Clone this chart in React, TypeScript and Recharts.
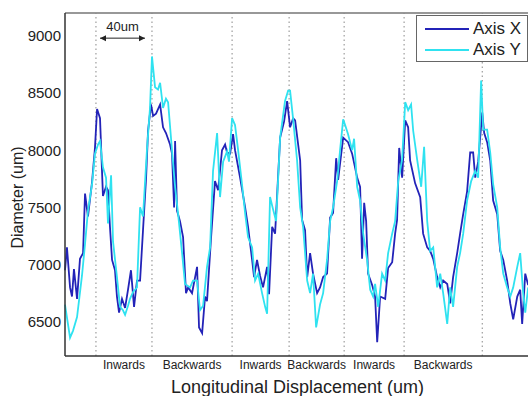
import React from 'react';
import { LineChart, Line, XAxis, YAxis, ReferenceLine } from 'recharts';

// Displacement (um) and diameter (um), Axis X probe
const xPos = [
  0, 1.4, 3.6, 5.0, 6.4, 8.6, 10.7, 12.9, 14.3, 16.4, 19.3, 21.4, 22.9, 25.0, 27.1, 29.3, 30.7, 32.1, 33.6, 35.7,
  37.1, 38.6, 40.7, 42.9, 45.0, 47.1, 49.3, 51.4, 53.6, 55.7, 57.9, 59.3, 61.4, 62.9, 65.0, 67.9, 70.0, 72.1, 75.0, 76.4,
  77.9, 78.6, 80.0, 82.1, 84.3, 86.4, 87.9, 90.7, 94.3, 95.7, 97.9, 100.0, 101.4, 104.3, 107.1, 109.3, 112.1, 114.3, 115.7, 117.9,
  120.0, 121.4, 125.0, 128.6, 130.7, 133.6, 135.0, 137.1, 139.3, 141.4, 144.3, 145.7, 147.9, 150.0, 153.6, 156.4, 158.6, 160.7, 162.9, 164.3,
  167.9, 169.3, 171.4, 172.9, 175.0, 177.1, 180.0, 182.1, 184.3, 187.1, 189.3, 191.4, 193.6, 195.0, 198.6, 202.1, 205.0, 208.6, 210.7, 212.1,
  213.6, 215.0, 216.4, 219.3, 221.4, 222.9, 225.0, 228.6, 230.7, 233.6, 235.7, 237.1, 238.6, 240.7, 242.9, 245.0, 246.4, 250.0, 253.6, 255.7,
  258.6, 260.7, 262.9, 265.7, 267.9, 270.0, 272.9, 275.0, 277.1, 280.0, 282.1, 284.3, 287.1, 289.3, 291.4, 292.9, 295.0, 297.9, 299.3, 301.4,
  303.6, 305.7, 308.6, 310.7, 312.9, 315.7, 317.9, 320.0, 322.9, 325.0, 326.4, 328.6, 330.7,
];
const xDiameter = [
  6950, 7150, 6800, 6720, 6960, 6700, 7050, 7100, 7620, 7420, 7720, 8020, 8360, 8280, 7600, 7680, 7650, 7330, 7040, 6950,
  6720, 6580, 6700, 6620, 6780, 6950, 6630, 6860, 6860, 7300, 7760, 8170, 8400, 8300, 8320, 8400, 8200, 8150, 8050, 7970,
  7500, 8080, 7470, 7380, 7240, 6750, 6800, 6750, 6980, 6450, 6400, 6720, 6680, 7240, 7730, 7650, 8000, 8050, 7980, 7970,
  8140, 8000, 7760, 7500, 7330, 7040, 6890, 7040, 6900, 6800, 6980, 6740, 7330, 7270, 8110, 8250, 8430, 8200, 8280, 8260,
  7910, 7390, 7300, 6890, 7100, 6920, 6750, 6800, 6890, 6920, 7410, 7450, 7930, 7740, 8110, 8070, 7970, 7760, 7680, 7050,
  7540, 7380, 6920, 6820, 6720, 6320, 6720, 6700, 6970, 7020, 7270, 7390, 8020, 7760, 8260, 8200, 7910, 7710, 7590, 7270,
  7150, 7120, 7050, 6890, 6800, 6860, 6830, 6660, 6890, 7100, 7270, 7440, 7640, 7980, 7980, 7760, 7900, 8330, 8150, 8070,
  7910, 7560, 7440, 7120, 7040, 6860, 6660, 6520, 6720, 6780, 6480, 6920, 6820,
];

// Axis Y probe
const yPos = [
  0, 3.6, 5.7, 8.6, 12.1, 14.3, 16.4, 19.3, 21.4, 23.6, 25.0, 27.1, 29.3, 30.7, 32.9, 34.3, 37.1, 39.3, 41.4, 42.9,
  45.0, 46.4, 48.6, 51.4, 53.6, 55.7, 58.6, 60.7, 62.1, 64.3, 66.4, 67.9, 70.0, 72.1, 73.6, 76.4, 78.6, 80.7, 83.6, 85.7,
  89.3, 91.4, 94.3, 96.4, 98.6, 101.4, 103.6, 105.7, 108.6, 110.7, 112.9, 115.7, 117.1, 119.3, 121.4, 123.6, 126.4, 128.6, 130.7, 133.6,
  135.7, 137.9, 140.7, 142.9, 144.3, 146.4, 148.6, 150.7, 153.6, 157.1, 159.3, 160.7, 162.9, 165.7, 167.9, 170.0, 172.9, 175.0, 177.1, 179.3,
  182.1, 184.3, 187.1, 189.3, 191.4, 194.3, 196.4, 198.6, 200.0, 202.1, 205.0, 206.4, 208.6, 210.7, 212.9, 215.7, 217.9, 220.0, 221.4, 223.6,
  226.4, 228.6, 230.7, 233.6, 235.7, 237.9, 240.7, 242.9, 245.0, 247.1, 248.6, 251.4, 254.3, 256.4, 258.6, 260.7, 262.9, 265.7, 267.9, 270.0,
  272.9, 275.0, 277.1, 280.0, 282.1, 284.3, 287.1, 290.0, 292.9, 295.0, 297.1, 298.6, 301.4, 303.6, 305.7, 308.6, 310.7, 312.9, 315.7, 317.9,
  320.0, 322.9, 325.0, 327.1, 328.6, 330.7,
];
const yDiameter = [
  6650, 6360, 6420, 6540, 6900, 7180, 7470, 7700, 7970, 8050, 8080, 7850, 7760, 7360, 7780, 7200, 6890, 6630, 6600, 6560,
  6640, 6700, 6760, 6800, 7500, 7420, 8020, 8370, 8820, 8550, 8530, 8590, 8370, 8450, 8420, 8000, 7680, 7450, 7100, 6830,
  6800, 6860, 6860, 6600, 6640, 6980, 7150, 7820, 8150, 7590, 7900, 7990, 7900, 8280, 8220, 8000, 7700, 7450, 7240, 7150,
  6860, 6920, 6750, 6630, 6570, 7590, 7480, 7380, 8110, 8430, 8520, 8520, 8270, 7910, 7500, 7330, 6860, 6750, 6920, 6450,
  6650, 6750, 7040, 7380, 7500, 7730, 8000, 8270, 8220, 8140, 8000, 8100, 7680, 7560, 7270, 7040, 6780, 6720, 6830, 6630,
  6920, 6860, 7100, 7270, 7380, 7730, 7920, 8420, 8350, 8400, 8170, 7920, 7680, 8030, 7380, 7120, 7150, 6800, 6920, 6750,
  6480, 6800, 6630, 6980, 7100, 7270, 7560, 7730, 7820, 7760, 8610, 8180, 8180, 7980, 7700, 7500, 7150, 6920, 6800, 6720,
  6800, 6980, 7100, 6750, 6580, 6800,
];

// dotted dividers between movement phases (um)
const phaseBounds = [22.1, 62.1, 119.3, 160.0, 199.3, 242.1, 297.9];
const phaseLabels = ['Inwards', 'Backwards', 'Inwards', 'Backwards', 'Inwards', 'Backwards'];
const yTicks = [6500, 7000, 7500, 8000, 8500, 9000];
const scaleBar = { from: 25.0, to: 57.1, level: 8980, text: '40um' };

const seriesX = xPos.map((p, i) => ({ pos: p, d: xDiameter[i] }));
const seriesY = yPos.map((p, i) => ({ pos: p, d: yDiameter[i] }));
const phaseMids = phaseLabels.map((_, i) => (phaseBounds[i] + phaseBounds[i + 1]) / 2);

const FONT = '"Liberation Sans", Arial, sans-serif';
const INK = '#222';
const COLOR_X = '#2323b8';
const COLOR_Y = '#2fe2f0';

const ArrowShape = (props: any) => {
  const { x1, y1, x2, y2 } = props;
  const h = 3;
  return (
    <g>
      <line x1={x1} y1={y1} x2={x2} y2={y2} stroke="#222" strokeWidth={1} />
      <polygon points={`${x1},${y1} ${x1 + 6},${y1 - h} ${x1 + 6},${y1 + h}`} fill="#222" />
      <polygon points={`${x2},${y2} ${x2 - 6},${y2 - h} ${x2 - 6},${y2 + h}`} fill="#222" />
    </g>
  );
};

const YTitle = (props: any) => {
  const vb = props.viewBox || { x: 0, y: 0, height: 0 };
  const cx = 17;
  const cy = vb.y + vb.height / 2 + 13;
  return (
    <text x={cx} y={cy} transform={`rotate(-90 ${cx} ${cy})`} textAnchor="middle" dominantBaseline="central"
      fontSize={16} fill={INK} fontFamily={FONT}>
      Diameter (um)
    </text>
  );
};

export default function App() {
  return (
    <div style={{ position: 'absolute', left: 0, top: 0, width: 528, height: 396, overflow: 'hidden', background: '#fff', fontFamily: FONT }}>
      <LineChart width={534} height={396} margin={{ top: 13, right: 4, bottom: 0, left: 0 }}>
        <XAxis
          dataKey="pos"
          type="number"
          domain={[0, 332]}
          ticks={phaseMids}
          tickFormatter={(v: number) => phaseLabels[phaseMids.indexOf(v)] ?? ''}
          tick={{ fontSize: 12, fill: INK, fontFamily: FONT }}
          tickLine={false}
          tickSize={2}
          height={40}
          axisLine={{ stroke: '#333', strokeWidth: 1.5 }}
          label={{ value: 'Longitudinal Displacement (um)', position: 'insideBottom', offset: 3, fontSize: 18, fill: INK, fontFamily: FONT }}
        />
        <YAxis
          type="number"
          domain={[6200, 9200]}
          ticks={yTicks}
          width={65}
          tickLine={false}
          tickSize={2}
          tickMargin={2}
          tick={{ fontSize: 15, fill: INK, fontFamily: FONT }}
          axisLine={{ stroke: '#333', strokeWidth: 1.5 }}
          label={<YTitle />}
        />
        <ReferenceLine y={9200} stroke="#333" strokeWidth={1.2} />
        {phaseBounds.map((b) => (
          <ReferenceLine key={b} x={b} stroke="#888" strokeWidth={1} strokeDasharray="1.5 3" />
        ))}
        <ReferenceLine
          segment={[{ x: scaleBar.from, y: scaleBar.level }, { x: scaleBar.to, y: scaleBar.level }]}
          shape={ArrowShape}
          label={{ value: scaleBar.text, position: 'top', offset: 7, fontSize: 13, fill: INK, fontFamily: FONT }}
        />
        <Line data={seriesX} dataKey="d" name="Axis X" type="linear" stroke={COLOR_X} strokeWidth={1.8}
          dot={false} activeDot={false} isAnimationActive={false} />
        <Line data={seriesY} dataKey="d" name="Axis Y" type="linear" stroke={COLOR_Y} strokeWidth={1.8}
          dot={false} activeDot={false} isAnimationActive={false} />
      </LineChart>
      <div style={{ position: 'absolute', left: 416, top: 15, width: 112, height: 47, border: '1px solid #666', background: '#fff', boxSizing: 'border-box' }}>
        {[{ c: COLOR_X, t: 'Axis X' }, { c: COLOR_Y, t: 'Axis Y' }].map((it, i) => (
          <div key={it.t} style={{ position: 'absolute', left: 8, top: 3 + i * 21, height: 20, display: 'flex', alignItems: 'center' }}>
            <div style={{ width: 44, height: 2, background: it.c, marginRight: 4 }} />
            <span style={{ fontSize: 17, color: INK, lineHeight: '20px' }}>{it.t}</span>
          </div>
        ))}
      </div>
    </div>
  );
}
